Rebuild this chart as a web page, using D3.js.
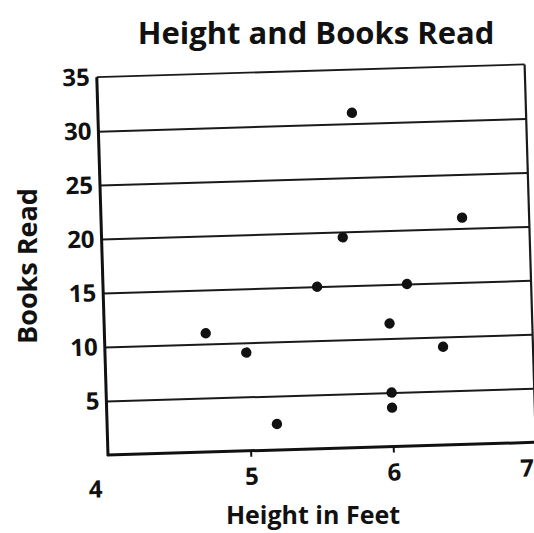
<!DOCTYPE html>
<html>
<head>
<meta charset="utf-8">
<script src="https://cdn.jsdelivr.net/npm/d3@7"></script>
<style>
  html, body { margin: 0; padding: 0; background: #fff; }
  svg { display: block; }
  text { font-family: "Open Sans", "Noto Sans", sans-serif; font-weight: 700; fill: #111; }
</style>
</head>
<body>
<script>
// ---- data ----
const heights = [5.78, 6.53, 5.69, 5.50, 6.13, 4.71, 6.00, 4.99, 6.37, 6.00, 6.00, 5.19];
const books   = [31.0, 21.0, 19.5, 15.0, 15.0, 11.0, 11.4, 9.1, 9.1, 5.0, 3.6, 2.4];
const xTicks = [4, 5, 6, 7];
const yTicks = [5, 10, 15, 20, 25, 30, 35];
const titleText = "Height and Books Read";
const xTitle = "Height in Feet";
const yTitle = "Books Read";

const W = 534, H = 533;
const plotW = 428, plotH = 378;
const originX = 108, originY = 455;
const tilt = -1.7; // scanned page is slightly rotated

const svg = d3.select("body").append("svg")
  .attr("width", W).attr("height", H);
svg.append("rect").attr("width", W).attr("height", H).attr("fill", "#fff");

const x = d3.scaleLinear().domain([4, 7]).range([0, plotW]);
const y = d3.scaleLinear().domain([0, 35]).range([0, -plotH]);

const g = svg.append("g")
  .attr("transform", `translate(${originX},${originY}) rotate(${tilt})`);

// gridlines
const grid = g.append("g")
  .call(d3.axisLeft(y).tickValues(yTicks.filter(v => v < 35)).tickSize(-plotW).tickFormat(""));
grid.select(".domain").remove();
grid.selectAll(".tick line").attr("stroke", "#1a1a1a").attr("stroke-width", 2);

// frame: top and right borders
g.append("line").attr("x1", x(4)).attr("x2", x(7)).attr("y1", y(35)).attr("y2", y(35))
  .attr("stroke", "#1a1a1a").attr("stroke-width", 1.8);
g.append("line").attr("x1", x(7)).attr("x2", x(7)).attr("y1", y(35)).attr("y2", y(0))
  .attr("stroke", "#1a1a1a").attr("stroke-width", 2.2);

// y axis labels
const yAxis = g.append("g")
  .call(d3.axisLeft(y).tickValues(yTicks).tickSize(0).tickPadding(7).tickFormat(d3.format("d")));
yAxis.select(".domain").remove();
yAxis.selectAll("text")
  .style("font-family", "'Open Sans', sans-serif").style("font-weight", 700)
  .style("font-size", "24px").attr("fill", "#111");

// x axis labels and ticks
const xAxis = g.append("g")
  .call(d3.axisBottom(x).tickValues(xTicks).tickSize(6).tickPadding(11).tickFormat(d3.format("d")));
xAxis.select(".domain").remove();
xAxis.selectAll(".tick line").attr("stroke", "#111").attr("stroke-width", 2)
  .attr("opacity", d => (d === 4 || d === 7) ? 0 : 1);
xAxis.selectAll("text")
  .style("font-family", "'Open Sans', sans-serif").style("font-weight", 700)
  .style("font-size", "24px").attr("fill", "#111")
  .attr("dx", d => d === 4 ? -14 : (d === 7 ? -10 : 0))
  .attr("dy", d => d === 4 ? "1.05em" : "0.71em");

// main axes lines
g.append("line").attr("x1", x(4)).attr("x2", x(4)).attr("y1", y(0) + 1).attr("y2", y(35))
  .attr("stroke", "#111").attr("stroke-width", 3);
g.append("line").attr("x1", x(4) - 1).attr("x2", x(7)).attr("y1", y(0)).attr("y2", y(0))
  .attr("stroke", "#111").attr("stroke-width", 3);

// points
g.append("g").selectAll("circle")
  .data(heights.map((h, i) => ({ h, b: books[i] })))
  .join("circle")
  .attr("cx", d => x(d.h)).attr("cy", d => y(d.b))
  .attr("r", 5.2).attr("fill", "#111");

// titles
svg.append("text").attr("x", 316).attr("y", 44).attr("text-anchor", "middle")
  .style("font-size", "31px").text(titleText);
svg.append("text").attr("x", 313).attr("y", 524).attr("text-anchor", "middle")
  .style("font-size", "25px").text(xTitle);
svg.append("text").attr("transform", "translate(37,266) rotate(-90)").attr("text-anchor", "middle")
  .style("font-size", "27px").text(yTitle);
</script>
</body>
</html>
